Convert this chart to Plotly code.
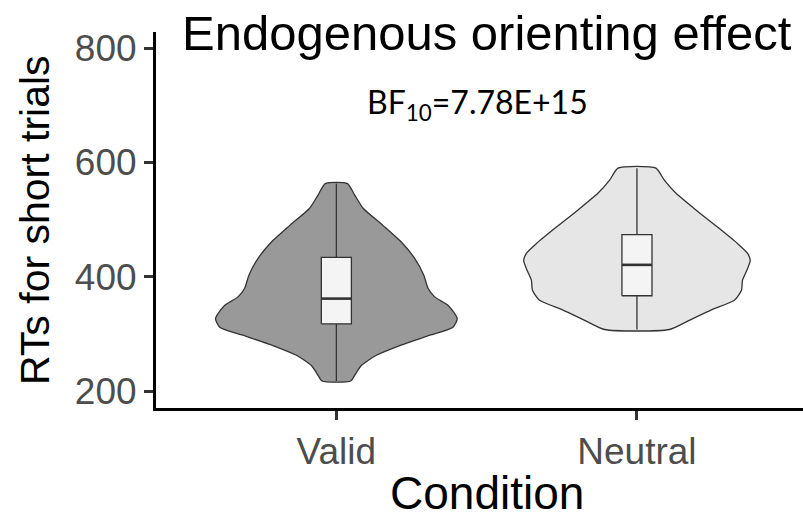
import plotly.graph_objects as go

# ---- data ----
conditions = ["Valid", "Neutral"]
positions = [1, 2]

valid_y = [563, 543, 520, 490, 461, 432, 403, 380, 365, 350, 327, 312, 298, 280, 263, 245, 228, 218]
valid_hw = [0.037, 0.061, 0.089, 0.155, 0.216, 0.261, 0.291, 0.305, 0.327, 0.372, 0.402, 0.388, 0.311, 0.211, 0.133, 0.083, 0.061, 0.048]

neutral_y = [590, 569, 546, 517, 487, 458, 441, 429, 412, 394, 377, 359, 342, 324, 308]
neutral_hw = [0.063, 0.091, 0.130, 0.196, 0.268, 0.335, 0.368, 0.377, 0.366, 0.351, 0.348, 0.324, 0.246, 0.174, 0.108]

q1 = [318, 367]
median = [362, 421]
q3 = [434, 474]
lower = [218, 308]
upper = [563, 590]

y_ticks = [200, 400, 600, 800]
bf_label = "BF<sub>10</sub>=7.78E+15"

# ---- styles ----
violin_fill = ["#999999", "#e6e6e6"]
line_col = "#333333"
box_fill = "#f4f4f4"
box_half = 0.05
font_family = "Liberation Sans, Arial, sans-serif"

fig = go.Figure()

profiles = [(valid_y, valid_hw), (neutral_y, neutral_hw)]
for pos, (ys, hws), fill in zip(positions, profiles, violin_fill):
    xs = [pos + w for w in hws] + [pos - w for w in reversed(hws)]
    yy = list(ys) + list(reversed(ys))
    xs.append(xs[0])
    yy.append(yy[0])
    fig.add_trace(go.Scatter(
        x=xs, y=yy, mode="lines", fill="toself", fillcolor=fill,
        line=dict(color=line_col, width=1.3, shape="spline", smoothing=0.6),
        hoverinfo="skip", showlegend=False))

# boxplots drawn as scatter shapes so they sit above the violin fills
for i, pos in enumerate(positions):
    # whiskers
    fig.add_trace(go.Scatter(
        x=[pos, pos, None, pos, pos],
        y=[lower[i], q1[i], None, q3[i], upper[i]],
        mode="lines", line=dict(color=line_col, width=1.3),
        hoverinfo="skip", showlegend=False))
    # box
    fig.add_trace(go.Scatter(
        x=[pos - box_half, pos + box_half, pos + box_half, pos - box_half, pos - box_half],
        y=[q1[i], q1[i], q3[i], q3[i], q1[i]],
        mode="lines", fill="toself", fillcolor=box_fill,
        line=dict(color=line_col, width=1.3),
        hoverinfo="skip", showlegend=False))
    # median
    fig.add_trace(go.Scatter(
        x=[pos - box_half, pos + box_half], y=[median[i], median[i]],
        mode="lines", line=dict(color=line_col, width=2.6),
        hoverinfo="skip", showlegend=False))

W, H = 803, 519
ml, mr, mt, mb = 156, 0, 32, 111
px_per_unit = 300.6
x_lo = 0.4
x_hi = x_lo + (W - ml - mr) / px_per_unit

fig.update_layout(
    width=W, height=H,
    margin=dict(l=ml, r=mr, t=mt, b=mb),
    plot_bgcolor="white", paper_bgcolor="white",
    font=dict(family=font_family, color="black"),
    xaxis=dict(
        range=[x_lo, x_hi], tickvals=positions, ticktext=conditions,
        showline=True, linecolor="black", linewidth=3,
        ticks="outside", ticklen=9, tickwidth=3, tickcolor=line_col,
        tickfont=dict(size=37, color="#4d4d4d"),
        showgrid=False, zeroline=False),
    yaxis=dict(
        range=[170.8, 828], tickvals=y_ticks,
        showline=True, linecolor="black", linewidth=3,
        ticks="outside", ticklen=9, tickwidth=3, tickcolor=line_col,
        tickfont=dict(size=37, color="#4d4d4d"),
        showgrid=False, zeroline=False),
    annotations=[
        dict(text="Endogenous orienting effect", x=1.5, xref="x", y=1.0, yref="paper",
             yshift=-1, xanchor="center", yanchor="middle", showarrow=False,
             font=dict(size=49, color="black", family=font_family)),
        dict(text=bf_label, x=1.47, xref="x", y=0.78, yref="paper", yshift=11,
             xanchor="center", yanchor="middle", showarrow=False,
             font=dict(size=32, color="black", family="Lato, Open Sans, sans-serif")),
        dict(text="Condition", x=1.5, xref="x", y=0, yref="paper", yshift=-85,
             xanchor="center", yanchor="middle", showarrow=False,
             font=dict(size=46, color="black", family=font_family)),
        dict(text="RTs for short trials", x=0, xref="paper", xshift=-121, y=0.5, yref="paper",
             xanchor="center", yanchor="middle", textangle=-90, showarrow=False,
             font=dict(size=41, color="black", family=font_family)),
    ],
)

fig.write_html("out.html")
